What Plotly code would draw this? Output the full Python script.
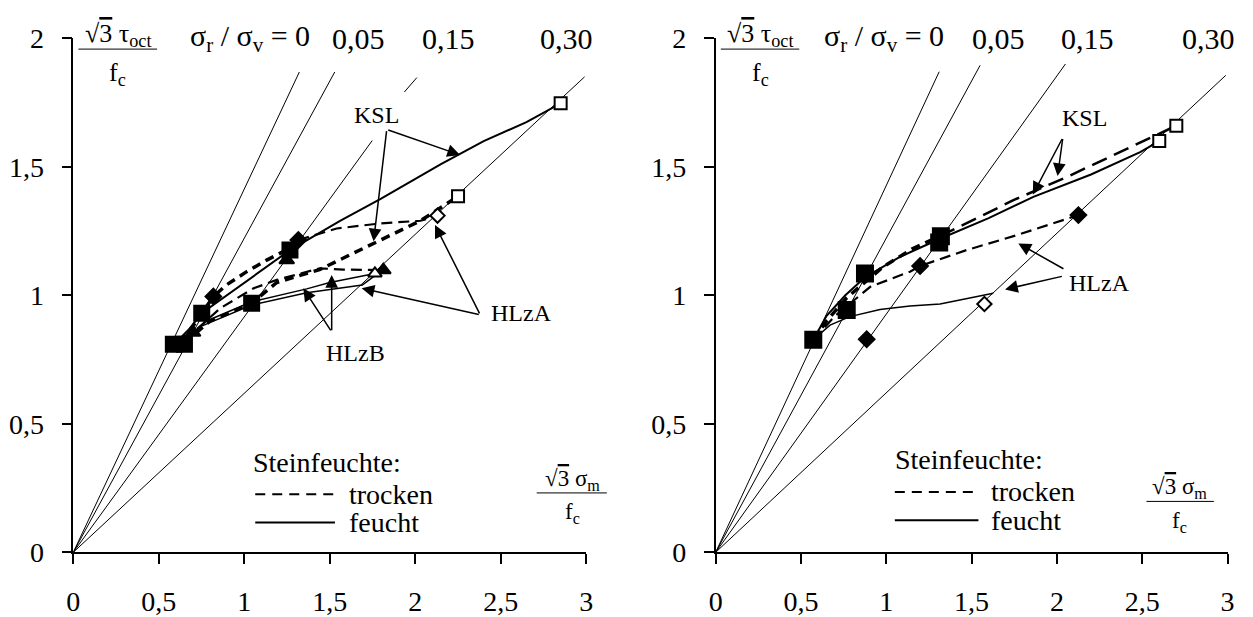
import plotly.graph_objects as go

FONT = "Liberation Serif"
W, H = 1253, 617

# ---------------- data ----------------
ratio_labels = ["σ<sub>r</sub> / σ<sub>v</sub> = 0", "0,05", "0,15", "0,30"]
x_tickvals = [0, 0.5, 1, 1.5, 2, 2.5, 3]
x_ticktext = ["0", "0,5", "1", "1,5", "2", "2,5", "3"]
y_tickvals = [0, 0.5, 1, 1.5, 2]
y_ticktext = ["0", "0,5", "1", "1,5", "2"]

# radial lines sigma_r/sigma_v = const (end points)
L_ray_x_end = [1.322, 1.529, 1.748, 2.99]
L_ray_y_end = [1.869, 1.869, 1.602, 1.85]
L_ray15_seg_x = [1.936, 2.009]
L_ray15_seg_y = [1.791, 1.847]
R_ray_x_end = [1.31, 1.55, 2.05, 2.99]
R_ray_y_end = [1.87, 1.895, 1.90, 1.856]

# ---- left panel curves ----
L_KSL_f_x = [0.59, 0.68, 0.751, 1.0, 1.267, 1.56, 1.8, 2.15, 2.4, 2.65, 2.85]
L_KSL_f_y = [0.81, 0.87, 0.93, 1.05, 1.176, 1.29, 1.376, 1.51, 1.60, 1.674, 1.747]
L_KSL_t_x = [0.65, 0.80, 1.043, 1.19, 1.44, 1.75, 2.03, 2.25]
L_KSL_t_y = [0.815, 0.90, 0.969, 1.05, 1.10, 1.20, 1.29, 1.385]
L_HLzA_t_x = [0.62, 0.70, 0.819, 0.897, 1.014, 1.131, 1.228, 1.316]
L_HLzA_t_y = [0.82, 0.88, 0.995, 1.041, 1.092, 1.137, 1.17, 1.215]
L_HLzA_t2_x = [1.316, 1.54, 1.8, 2.03, 2.13]
L_HLzA_t2_y = [1.215, 1.26, 1.28, 1.29, 1.31]
L_HLzA_f_x = [0.60, 0.75, 1.043, 1.365, 1.69, 1.76]
L_HLzA_f_y = [0.81, 0.88, 0.962, 1.01, 1.04, 1.075]
L_HLzB_f_x = [0.62, 0.78, 1.043, 1.365, 1.5, 1.764]
L_HLzB_f_y = [0.81, 0.90, 0.975, 1.025, 1.05, 1.085]
L_HLzB_t_x = [0.66, 0.70, 0.86, 1.054, 1.19, 1.443, 1.58, 1.813]
L_HLzB_t_y = [0.82, 0.855, 0.95, 1.027, 1.06, 1.105, 1.10, 1.098]

L_sq_fill_x = [0.585, 0.65, 0.751, 1.043, 1.267]
L_sq_fill_y = [0.81, 0.81, 0.93, 0.969, 1.176]
L_sq_open_x = [2.25, 2.85]
L_sq_open_y = [1.385, 1.747]
L_di_fill_x = [0.819, 1.316]
L_di_fill_y = [0.995, 1.215]
L_di_open_x = [2.13]
L_di_open_y = [1.31]
L_tr_fill_x = [0.70, 1.248, 1.813]
L_tr_fill_y = [0.855, 1.137, 1.098]
L_tr_open_x = [1.764]
L_tr_open_y = [1.085]

# ---- right panel curves ----
R_KSL_f_x = [0.572, 0.65, 0.76, 0.875, 1.082, 1.315, 1.6, 1.862, 2.2, 2.488, 2.6]
R_KSL_f_y = [0.827, 0.92, 1.0, 1.07, 1.15, 1.22, 1.30, 1.383, 1.47, 1.557, 1.60]
R_KSL_t_x = [0.572, 0.65, 0.768, 0.98, 1.15, 1.315, 1.745, 2.057, 2.488, 2.7]
R_KSL_t_y = [0.827, 0.90, 0.99, 1.11, 1.18, 1.23, 1.37, 1.46, 1.596, 1.66]
R_HLzA_t_x = [0.572, 0.70, 0.906, 1.139, 1.198, 1.471, 1.764, 2.126]
R_HLzA_t_y = [0.827, 0.92, 1.033, 1.092, 1.114, 1.176, 1.234, 1.312]
R_HLzA_f_x = [0.572, 0.67, 0.787, 0.963, 1.139, 1.315, 1.627]
R_HLzA_f_y = [0.827, 0.884, 0.917, 0.945, 0.958, 0.966, 1.008]

R_sq_fill_x = [0.572, 0.768, 0.875, 1.31, 1.32]
R_sq_fill_y = [0.827, 0.943, 1.085, 1.205, 1.23]
R_sq_open_x = [2.6, 2.7]
R_sq_open_y = [1.60, 1.66]
R_di_fill_x = [0.885, 1.198, 2.126]
R_di_fill_y = [0.829, 1.114, 1.312]
R_di_open_x = [1.575]
R_di_open_y = [0.966]

# legend (Steinfeuchte) per panel: sample line x-range, y of title / dashed / solid
leg_title = "Steinfeuchte:"
leg_names = ["trocken", "feucht"]
L_leg_line_x = [1.064, 1.53]
L_leg_y = [0.351, 0.226, 0.116]
R_leg_line_x = [1.05, 1.54]
R_leg_y = [0.36, 0.235, 0.125]
leg_text_x = [1.04, 1.60]

# axis-title fractions: numerator/denominator centre x, line x-range, y (num, line, den)
L_xfrac = dict(xc=2.92, x0=2.71, x1=3.12, y=[0.283, 0.231, 0.151])
R_xfrac = dict(xc=2.72, x0=2.525, x1=2.92, y=[0.25, 0.198, 0.118])
yfrac = dict(xc=0.26, x0=0.03, x1=0.49, y=[2.012, 1.958, 1.862])

# top ratio label positions (first right-aligned, rest centred)
L_ratio_x = [1.394, 1.67, 2.197, 2.885]
R_ratio_x = [1.35, 1.656, 2.18, 2.89]
ratio_y = 2.0

# group labels and arrows: (tail x, tail y, tip x, tip y)
L_labels = [("KSL", 1.772, 1.702), ("HLzA", 2.62, 0.93), ("HLzB", 1.65, 0.774)]
L_arrows = [(1.833, 1.645, 1.756, 1.21), (1.833, 1.645, 2.262, 1.546),
            (2.38, 0.924, 2.115, 1.274), (2.38, 0.924, 1.686, 1.027),
            (1.511, 0.858, 1.345, 1.027), (1.511, 0.858, 1.511, 1.079)]
R_labels = [("KSL", 2.16, 1.69), ("HLzA", 2.25, 1.047)]
R_arrows = [(2.035, 1.614, 1.859, 1.392), (2.035, 1.614, 2.004, 1.464),
            (2.047, 1.10, 1.774, 1.202), (2.038, 1.075, 1.696, 1.023)]

# ---------------- figure ----------------
XDOM = {"x": (73.3 / W, 586.3 / W), "x2": (715.7 / W, 1227.5 / W)}
YDOM = ((617 - 552.3) / H, (617 - 38.3) / H)
XR, YR = 3.0, 2.0

def to_paper(xa, xd, yd):
    a, b = XDOM[xa]
    return a + xd / XR * (b - a), YDOM[0] + yd / YR * (YDOM[1] - YDOM[0])

fig = go.Figure()

def line(xs, ys, xa, ya, width=1.5, dash="solid"):
    fig.add_trace(go.Scatter(x=xs, y=ys, mode="lines", xaxis=xa, yaxis=ya,
                             line=dict(color="black", width=width, dash=dash),
                             showlegend=False, hoverinfo="skip", cliponaxis=False))

def markers(xs, ys, xa, ya, symbol, size, filled=True):
    fig.add_trace(go.Scatter(x=xs, y=ys, mode="markers", xaxis=xa, yaxis=ya,
                             marker=dict(symbol=symbol, size=size,
                                         color="black" if filled else "white",
                                         line=dict(color="black", width=2)),
                             showlegend=False, hoverinfo="skip", cliponaxis=False))

THICK = "9px,6px"
MED = "11px,6px"

for xa, ya, xe, ye in [("x", "y", L_ray_x_end, L_ray_y_end), ("x2", "y2", R_ray_x_end, R_ray_y_end)]:
    for x1, y1 in zip(xe, ye):
        line([0, x1], [0, y1], xa, ya, width=1)
line(L_ray15_seg_x, L_ray15_seg_y, "x", "y", width=1)

# left curves
line(L_KSL_f_x, L_KSL_f_y, "x", "y", 2)
line(L_KSL_t_x, L_KSL_t_y, "x", "y", 3.5, THICK)
line(L_HLzA_t_x, L_HLzA_t_y, "x", "y", 3.5, THICK)
line(L_HLzA_t2_x, L_HLzA_t2_y, "x", "y", 2.2, MED)
line(L_HLzA_f_x, L_HLzA_f_y, "x", "y", 1.5)
line(L_HLzB_f_x, L_HLzB_f_y, "x", "y", 1.5)
line(L_HLzB_t_x, L_HLzB_t_y, "x", "y", 2.2, MED)
markers(L_sq_fill_x, L_sq_fill_y, "x", "y", "square", 15)
markers(L_sq_open_x, L_sq_open_y, "x", "y", "square", 12, False)
markers(L_di_fill_x, L_di_fill_y, "x", "y", "diamond", 12)
markers(L_di_open_x, L_di_open_y, "x", "y", "diamond", 11, False)
markers(L_tr_fill_x, L_tr_fill_y, "x", "y", "triangle-up", 13)
markers(L_tr_open_x, L_tr_open_y, "x", "y", "triangle-up", 12, False)

# right curves
line(R_KSL_f_x, R_KSL_f_y, "x2", "y2", 2)
line(R_KSL_t_x[:6], R_KSL_t_y[:6], "x2", "y2", 3.5, THICK)
line(R_KSL_t_x[5:], R_KSL_t_y[5:], "x2", "y2", 2.5, "16px,8px")
line(R_HLzA_t_x, R_HLzA_t_y, "x2", "y2", 2.2, MED)
line(R_HLzA_f_x, R_HLzA_f_y, "x2", "y2", 1.5)
markers(R_sq_fill_x, R_sq_fill_y, "x2", "y2", "square", 16)
markers(R_sq_open_x, R_sq_open_y, "x2", "y2", "square", 12, False)
markers(R_di_fill_x, R_di_fill_y, "x2", "y2", "diamond", 12)
markers(R_di_open_x, R_di_open_y, "x2", "y2", "diamond", 11, False)

ann = []
shapes = []

def text(t, xd, yd, xa, size=28, xanchor="center"):
    px, py = to_paper(xa, xd, yd)
    ann.append(dict(text=t, x=px, y=py, xref="paper", yref="paper", showarrow=False,
                    xanchor=xanchor, yanchor="middle",
                    font=dict(family=FONT, size=size, color="black")))

def hline(xa, x0, x1, yd):
    p0, py = to_paper(xa, x0, yd)
    p1, _ = to_paper(xa, x1, yd)
    shapes.append(dict(type="line", xref="paper", yref="paper", x0=p0, x1=p1, y0=py, y1=py,
                       line=dict(color="black", width=1)))

SQRT3 = "√<span style='text-decoration:overline'>3</span>"
for xa, ya, llx, ly, xf in [("x", "y", L_leg_line_x, L_leg_y, L_xfrac),
                            ("x2", "y2", R_leg_line_x, R_leg_y, R_xfrac)]:
    # legend
    line(llx, [ly[1], ly[1]], xa, ya, 2, "10px,7px")
    line(llx, [ly[2], ly[2]], xa, ya, 2)
    text(leg_title, leg_text_x[0], ly[0], xa, 28, "left")
    text(leg_names[0], leg_text_x[1], ly[1], xa, 28, "left")
    text(leg_names[1], leg_text_x[1], ly[2], xa, 28, "left")
    # y-axis title fraction
    text(SQRT3 + " τ<sub>oct</sub>", yfrac["xc"], yfrac["y"][0], xa, 26)
    hline(xa, yfrac["x0"], yfrac["x1"], yfrac["y"][1])
    text("f<sub>c</sub>", yfrac["xc"], yfrac["y"][2], xa, 26)
    # x-axis title fraction
    text(SQRT3 + " σ<sub>m</sub>", xf["xc"], xf["y"][0], xa, 23)
    hline(xa, xf["x0"], xf["x1"], xf["y"][1])
    text("f<sub>c</sub>", xf["xc"], xf["y"][2], xa, 23)

for xa, xs in [("x", L_ratio_x), ("x2", R_ratio_x)]:
    for i, (t, xv) in enumerate(zip(ratio_labels, xs)):
        text(t, xv, ratio_y, xa, 30, "right" if i == 0 else "center")

for (t, xv, yv) in L_labels:
    text(t, xv, yv, "x", 24)
for (t, xv, yv) in R_labels:
    text(t, xv, yv, "x2", 24)

for xa, ya, arrs in [("x", "y", L_arrows), ("x2", "y2", R_arrows)]:
    for (tx, ty, hx, hy) in arrs:
        ann.append(dict(text="", x=hx, y=hy, ax=tx, ay=ty, xref=xa, yref=ya,
                        axref=xa, ayref=ya, showarrow=True, arrowhead=2,
                        arrowsize=1.7, arrowwidth=1.5, arrowcolor="black", standoff=0))

axis_common = dict(showgrid=False, zeroline=False, showline=True, linecolor="black",
                   linewidth=1.5, ticks="outside", ticklen=10, tickwidth=1.5,
                   tickcolor="black", automargin=False,
                   tickfont=dict(family=FONT, size=28, color="black"))
fig.update_layout(
    width=W, height=H, margin=dict(l=0, r=0, t=0, b=0),
    font=dict(family=FONT, color="black"),
    paper_bgcolor="white", plot_bgcolor="white", showlegend=False,
    xaxis=dict(domain=list(XDOM["x"]), range=[0, XR], anchor="y",
               tickvals=x_tickvals, ticktext=x_ticktext, ticklabelstandoff=13, **axis_common),
    yaxis=dict(domain=list(YDOM), range=[0, YR], anchor="x",
               tickvals=y_tickvals, ticktext=y_ticktext, ticklabelstandoff=12, **axis_common),
    xaxis2=dict(domain=list(XDOM["x2"]), range=[0, XR], anchor="y2",
                tickvals=x_tickvals, ticktext=x_ticktext, ticklabelstandoff=13, **axis_common),
    yaxis2=dict(domain=list(YDOM), range=[0, YR], anchor="x2",
                tickvals=y_tickvals, ticktext=y_ticktext, ticklabelstandoff=12, **axis_common),
    annotations=ann, shapes=shapes,
)
fig.write_html("out.html", config={"displayModeBar": False},
               post_script="document.body.style.margin='0px';document.body.style.overflow='hidden';")
